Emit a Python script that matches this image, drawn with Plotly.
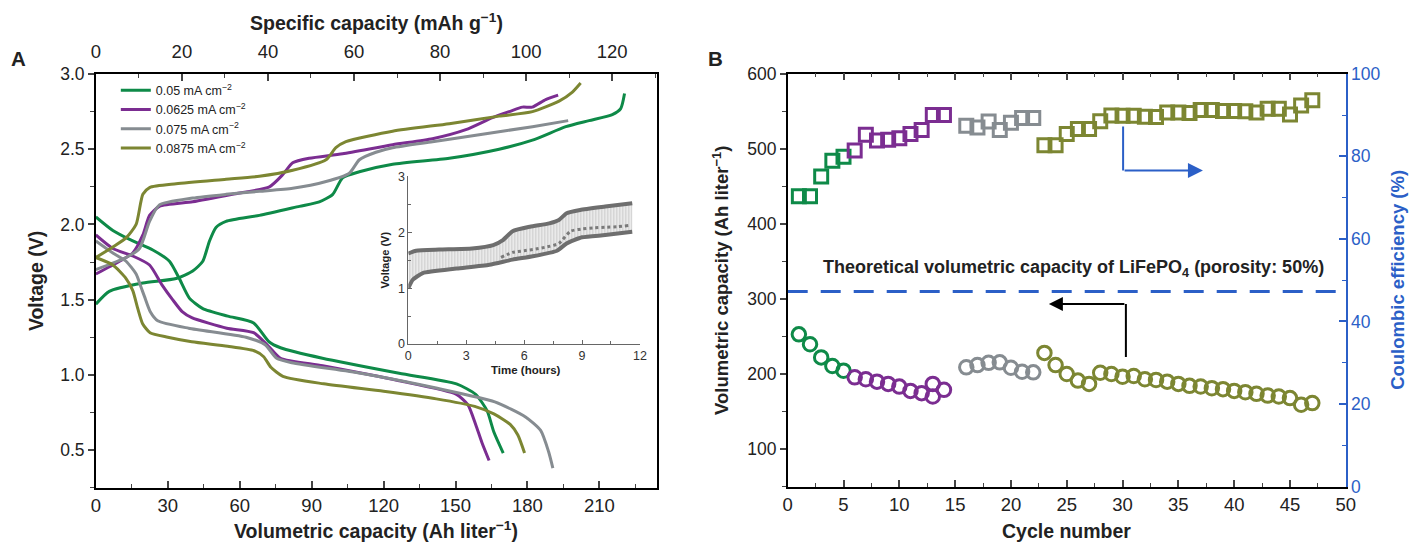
import plotly.graph_objects as go

W, H = 1410, 546
# page-pixel placement: the rendered page maps figure pixels as r = a + k * p
SX_A, SX_K = 2.0, 0.991
SY_A, SY_K = 8.1, 0.966

# ---------------- Panel A: charge/discharge profiles ----------------
rate_labels = ["0.05 mA cm<sup>−2</sup>", "0.0625 mA cm<sup>−2</sup>",
               "0.075 mA cm<sup>−2</sup>", "0.0875 mA cm<sup>−2</sup>"]
colors = ["#0e8a48", "#7b2d91", "#868c91", "#7c8632"]

# charge (rising) curves: volumetric capacity (Ah/L), voltage (V)
chg_q_005 = [0, 5.6, 19.6, 33.5, 40.4, 44.6, 47.4, 50.1, 54.3, 68.2, 84.9, 93.2, 98.8, 102.9,
             109.9, 123.8, 147.4, 168.2, 182.1, 196, 205.7, 215.4, 218.9, 220.5]
chg_v_005 = [1.47, 1.555, 1.61, 1.64, 1.69, 1.755, 1.89, 1.98, 2.02, 2.06, 2.12, 2.15, 2.20, 2.31,
             2.35, 2.40, 2.44, 2.50, 2.56, 2.65, 2.69, 2.73, 2.77, 2.87]
chg_q_0625 = [0, 9.9, 15.4, 19.6, 22.4, 26.5, 40.4, 57, 72.4, 77.9, 82.1, 89, 102.9, 123.75,
              140.4, 154.3, 165.4, 172.4, 177.9, 182, 187.6, 192.8]
chg_v_0625 = [1.67, 1.755, 1.81, 1.93, 2.06, 2.12, 2.15, 2.20, 2.25, 2.33, 2.41, 2.44, 2.47, 2.53,
              2.57, 2.63, 2.71, 2.75, 2.78, 2.78, 2.83, 2.86]
chg_q_075 = [0, 12.6, 18.2, 22.4, 26.5, 40.4, 54.3, 68.2, 82.1, 96, 105.7, 109.9, 116.8, 123.75,
             140.4, 161.25, 182.1, 197]
chg_v_075 = [1.70, 1.78, 1.84, 2.02, 2.13, 2.175, 2.20, 2.22, 2.24, 2.285, 2.34, 2.43, 2.48, 2.51,
             2.55, 2.60, 2.65, 2.69]
chg_q_0875 = [0, 7.1, 12.6, 16.8, 19.6, 22.4, 33.5, 54.3, 68.2, 82.1, 96, 100.1, 104.3, 123.75,
              147.4, 168.2, 182.1, 193.2, 198.75, 202.2]
chg_v_0875 = [1.78, 1.85, 1.91, 2.0, 2.20, 2.245, 2.27, 2.30, 2.32, 2.36, 2.43, 2.51, 2.55, 2.62,
              2.67, 2.72, 2.75, 2.82, 2.88, 2.94]

# discharge (falling) curves
dis_q_005 = [0, 7.1, 15.4, 23.75, 30.7, 34.8, 39, 44.6, 55, 65.8, 72.2, 77, 94.5, 126.5, 150.4,
             158.4, 163.2, 166, 169.9]
dis_v_005 = [2.05, 1.96, 1.89, 1.83, 1.755, 1.64, 1.51, 1.44, 1.39, 1.345, 1.22, 1.18, 1.11, 1.01,
             0.94, 0.87, 0.76, 0.62, 0.48]
dis_q_0625 = [0, 7.1, 15.4, 22.4, 27.5, 32, 36, 40, 54.6, 65.8, 72, 77, 94.6, 126.5, 150.4, 155.2,
              158.4, 161, 164]
dis_v_0625 = [1.93, 1.84, 1.79, 1.73, 1.60, 1.50, 1.42, 1.38, 1.31, 1.28, 1.19, 1.11, 1.06, 0.96,
              0.87, 0.80, 0.67, 0.55, 0.43]
dis_q_075 = [0, 7.1, 12.6, 16.8, 18.9, 20.3, 22.7, 25.8, 38.7, 62.6, 70.6, 75.4, 81.7, 110.5,
             142.4, 166.4, 179.2, 185.5, 188.8, 190.6]
dis_v_075 = [1.89, 1.81, 1.755, 1.67, 1.58, 1.52, 1.42, 1.36, 1.31, 1.25, 1.20, 1.11, 1.08, 1.01,
             0.91, 0.82, 0.72, 0.63, 0.49, 0.38]
dis_q_0875 = [0, 7.1, 12.6, 15.4, 17.5, 19.5, 22.6, 30, 40, 55, 66, 70, 73, 78, 95, 120, 142, 158,
              166, 172.8, 176, 178.8]
dis_v_0875 = [1.78, 1.73, 1.64, 1.56, 1.44, 1.34, 1.28, 1.25, 1.22, 1.19, 1.16, 1.12, 1.05, 0.99,
              0.94, 0.89, 0.84, 0.79, 0.74, 0.67, 0.60, 0.48]

# inset: voltage vs time (hours)
inset_top_t = [0, 0.4, 1.6, 3.3, 4.4, 4.9, 5.4, 6.3, 7.3, 7.8, 8.2, 8.9, 10.2, 11.6]
inset_top_v = [1.62, 1.67, 1.69, 1.71, 1.77, 1.86, 2.02, 2.10, 2.16, 2.22, 2.34, 2.40, 2.46, 2.52]
inset_bot_t = [0, 0.23, 0.75, 2.5, 4.2, 5.4, 6.45, 7.7, 8.2, 9.0, 10.2, 11.6]
inset_bot_v = [1.0, 1.15, 1.27, 1.35, 1.42, 1.51, 1.57, 1.67, 1.80, 1.91, 1.95, 2.01]
inset_mid_t = [4.8, 5.4, 6.0, 6.6, 7.2, 7.8, 8.4, 9.0, 9.6, 10.2, 10.8, 11.4]
inset_mid_v = [1.55, 1.64, 1.67, 1.70, 1.74, 1.80, 2.02, 2.06, 2.08, 2.09, 2.10, 2.12]

# ---------------- Panel B: cycling ----------------
cyc_005 = [1, 2, 3, 4, 5]
ce_005 = [70.3, 70.3, 75.1, 78.9, 79.9]
cap_005 = [252.8, 239.6, 222.1, 210.6, 204.4]

cyc_0625 = [6, 7, 8, 9, 10, 11, 12, 13, 14]
ce_0625 = [81.4, 85.2, 83.8, 84.0, 84.4, 85.4, 86.4, 90.0, 90.0]
cyc_0625_cap = [6, 7, 8, 9, 10, 11, 12, 13, 13, 14]
cap_0625 = [195.6, 193.0, 189.8, 186.8, 183.2, 177.5, 174.5, 186.8, 170.0, 178.9]

cyc_075 = [16, 17, 18, 19, 20, 21, 22]
ce_075 = [87.4, 87.0, 88.4, 86.4, 88.1, 89.3, 89.3]
cap_075 = [208.9, 211.9, 214.9, 215.5, 208.3, 203.0, 202.2]

cyc_0875 = list(range(23, 48))
ce_0875 = [82.7, 82.7, 85.4, 86.6, 86.6, 88.5, 89.9, 89.8, 89.8, 89.6, 89.5, 90.6, 90.6, 90.5,
           91.2, 91.2, 91.0, 91.0, 90.9, 90.6, 91.5, 91.5, 90.1, 92.3, 93.6]
cap_0875 = [228.1, 211.9, 200.0, 191.2, 186.8, 201.7, 200.0, 196.4, 197.3, 193.0, 192.1, 189.8,
            186.8, 184.2, 183.3, 181.1, 179.8, 177.5, 175.8, 173.6, 171.3, 170.0, 167.9, 159.1,
            161.3]

theoretical_cap = 310

# ---------------- layout helpers (page pixel -> paper fraction) ----------------
def px_x(r):
    return ((r - SX_A) / SX_K) / W

def px_y(r):
    return 1 - ((r - SY_A) / SY_K) / H

FONT = "Liberation Sans, Arial, sans-serif"
NARROW = "Liberation Sans Narrow, Liberation Sans, Arial, sans-serif"
BLUE = "#2b5fc7"

fig = go.Figure()

chg = [(chg_q_005, chg_v_005), (chg_q_0625, chg_v_0625), (chg_q_075, chg_v_075), (chg_q_0875, chg_v_0875)]
dis = [(dis_q_005, dis_v_005), (dis_q_0625, dis_v_0625), (dis_q_075, dis_v_075), (dis_q_0875, dis_v_0875)]
for i in range(4):
    fig.add_trace(go.Scatter(x=chg[i][0], y=chg[i][1], mode="lines", name=rate_labels[i],
                             line=dict(color=colors[i], width=3, shape="spline", smoothing=0.6),
                             xaxis="x", yaxis="y", legendgroup=str(i)))
    fig.add_trace(go.Scatter(x=dis[i][0], y=dis[i][1], mode="lines", showlegend=False,
                             line=dict(color=colors[i], width=3, shape="spline", smoothing=0.6),
                             xaxis="x", yaxis="y", legendgroup=str(i)))

# empty trace so the top (specific capacity) axis is drawn
fig.add_trace(go.Scatter(x=[], y=[], mode="lines", showlegend=False, hoverinfo="skip",
                         xaxis="x2", yaxis="y"))

# inset traces
GREY_I = "#6e6e6e"
fig.add_trace(go.Scatter(x=inset_top_t, y=inset_top_v, mode="lines", showlegend=False,
                         line=dict(color=GREY_I, width=4, shape="spline", smoothing=0.5),
                         xaxis="x3", yaxis="y3"))
fig.add_trace(go.Scatter(x=inset_bot_t, y=inset_bot_v, mode="lines", showlegend=False,
                         line=dict(color=GREY_I, width=4, shape="spline", smoothing=0.5),
                         fill="tonexty", fillcolor="#e6e6e6",
                         fillpattern=dict(shape="|", fgcolor="#a8a8a8", bgcolor="#f0f0f0",
                                          size=3, solidity=0.45),
                         xaxis="x3", yaxis="y3"))
fig.add_trace(go.Scatter(x=inset_mid_t, y=inset_mid_v, mode="lines", showlegend=False,
                         line=dict(color="#7a7a7a", width=3, dash="dot", shape="spline", smoothing=0.5),
                         xaxis="x3", yaxis="y3"))

# panel B traces
groups = [(cyc_005, ce_005, cyc_005, cap_005), (cyc_0625, ce_0625, cyc_0625_cap, cap_0625),
          (cyc_075, ce_075, cyc_075, cap_075), (cyc_0875, ce_0875, cyc_0875, cap_0875)]
for i, (cx, ce, kx, cap) in enumerate(groups):
    fig.add_trace(go.Scatter(x=cx, y=ce, mode="markers", showlegend=False,
                             marker=dict(symbol="square-open", size=13, color=colors[i],
                                         line=dict(width=3, color=colors[i])),
                             xaxis="x4", yaxis="y5"))
    fig.add_trace(go.Scatter(x=kx, y=cap, mode="markers", showlegend=False,
                             marker=dict(symbol="circle-open", size=13.5, color=colors[i],
                                         line=dict(width=3, color=colors[i])),
                             xaxis="x4", yaxis="y4"))

tickfont = dict(family=FONT, size=17.5, color="#222")
narrowfont = dict(family=NARROW, size=18.5, color="#222")

A_dom_x = [px_x(93), px_x(655)]
A_dom_y = [px_y(487), px_y(72.3)]
B_dom_x = [px_x(786), px_x(1345)]
B_dom_y = [px_y(486), px_y(72)]

fig.update_layout(
    width=W, height=H, margin=dict(l=0, r=0, t=0, b=0),
    paper_bgcolor="white", plot_bgcolor="white",
    showlegend=True,
    legend=dict(x=px_x(113), y=px_y(74), xanchor="left", yanchor="top",
                font=dict(family=FONT, size=12.5, color="#222"), bgcolor="rgba(0,0,0,0)",
                itemwidth=30, tracegroupgap=0),
    xaxis=dict(domain=A_dom_x, range=[0, 234], anchor="y", showgrid=False, zeroline=False,
               showline=True, linecolor="black", linewidth=1.5, mirror=False,
               ticks="inside", ticklen=7, tickwidth=1.5, dtick=30, tick0=0,
               minor=dict(ticks="inside", ticklen=4, dtick=15, tickwidth=1.2),
               tickfont=narrowfont, ticklabelstandoff=0),
    xaxis2=dict(domain=A_dom_x, range=[0, 130.4], anchor="y", overlaying="x", side="top",
                showgrid=False, zeroline=False, showline=True, linecolor="black", linewidth=1.5,
                ticks="inside", ticklen=7, tickwidth=1.5, dtick=20, tick0=0,
                minor=dict(ticks="inside", ticklen=4, dtick=10, tickwidth=1.2),
                tickfont=narrowfont, ticklabelstandoff=7),
    yaxis=dict(domain=A_dom_y, range=[0.25, 3.0], anchor="x", showgrid=False, zeroline=False,
               showline=True, linecolor="black", linewidth=1.5, mirror=True,
               ticks="outside", ticklen=6, tickwidth=1.5, dtick=0.5, tick0=0.5, tickformat=".1f",
               minor=dict(ticks="outside", ticklen=4, dtick=0.25, tickwidth=1.2),
               tickfont=tickfont),
    xaxis3=dict(domain=[px_x(406), px_x(638)], range=[0, 12], anchor="y3", showgrid=False,
                zeroline=False, showline=True, linecolor="#666", linewidth=1,
                ticks="inside", ticklen=4, tickwidth=1, tickcolor="#666", dtick=3, tick0=0,
                minor=dict(ticks="inside", ticklen=2.5, dtick=1.5, tickcolor="#666"),
                tickfont=dict(family=FONT, size=12.5, color="#333")),
    yaxis3=dict(domain=[px_y(343), px_y(175)], range=[0, 3], anchor="x3", showgrid=False,
                zeroline=False, showline=True, linecolor="#666", linewidth=1,
                ticks="inside", ticklen=4, tickwidth=1, tickcolor="#666", dtick=1, tick0=0,
                minor=dict(ticks="inside", ticklen=2.5, dtick=0.5, tickcolor="#666"),
                tickfont=dict(family=FONT, size=12.5, color="#333")),
    xaxis4=dict(domain=B_dom_x, range=[0, 50], anchor="y4", showgrid=False, zeroline=False,
                showline=True, linecolor="black", linewidth=1.5, mirror="ticks",
                ticks="inside", ticklen=7, tickwidth=1.5, dtick=5, tick0=0,
                minor=dict(ticks="inside", ticklen=4, dtick=2.5, tickwidth=1.2),
                tickfont=narrowfont, ticklabelstandoff=0),
    yaxis4=dict(domain=B_dom_y, range=[50, 600], anchor="x4", showgrid=False, zeroline=False,
                showline=True, linecolor="black", linewidth=1.5,
                ticks="outside", ticklen=6, tickwidth=1.5, dtick=100, tick0=100,
                minor=dict(ticks="outside", ticklen=4, dtick=50, tickwidth=1.2),
                tickfont=tickfont),
    yaxis5=dict(domain=B_dom_y, range=[0, 100], anchor="x4", overlaying="y4", side="right",
                showgrid=False, zeroline=False, showline=True, linecolor=BLUE, linewidth=1.5,
                ticks="inside", ticklen=7, tickwidth=1.5, tickcolor=BLUE, dtick=20, tick0=0,
                minor=dict(ticks="inside", ticklen=4, dtick=10, tickcolor=BLUE, tickwidth=1.2),
                tickfont=dict(family=FONT, size=17.5, color=BLUE)),
)

# theoretical capacity line and arrows in panel B
fig.add_shape(type="line", xref="x4", yref="y4", x0=0, x1=50, y0=theoretical_cap, y1=theoretical_cap,
              line=dict(color=BLUE, width=3, dash="20px,13px"))
fig.add_shape(type="line", xref="x4", yref="y4", x0=30.3, x1=30.3, y0=222.8, y1=293.2,
              line=dict(color="black", width=2))
fig.add_annotation(xref="x4", yref="y4", x=23.4, y=293.2, ax=30.3, ay=293.2,
                   axref="x4", ayref="y4", text="", showarrow=True, arrowhead=2,
                   arrowsize=1.4, arrowwidth=2, arrowcolor="black")
fig.add_shape(type="line", xref="x4", yref="y4", x0=30.05, x1=30.05, y0=529.6, y1=471.2,
              line=dict(color=BLUE, width=2))
fig.add_annotation(xref="x4", yref="y4", x=37.2, y=471.2, ax=30.05, ay=471.2,
                   axref="x4", ayref="y4", text="", showarrow=True, arrowhead=2,
                   arrowsize=1.5, arrowwidth=2, arrowcolor=BLUE)

def label(text, x, y, size, color="#222", bold=True, angle=0, family=FONT, xanchor="center"):
    fig.add_annotation(xref="paper", yref="paper", x=px_x(x), y=px_y(y),
                       text=f"<b>{text}</b>" if bold else text,
                       showarrow=False, textangle=angle, xanchor=xanchor, yanchor="middle",
                       font=dict(family=family, size=size, color=color))

label("Theoretical volumetric capacity of LiFePO<sub>4</sub> (porosity: 50%)", 1072, 267, 18)

# axis titles and panel letters
label("A", 16, 57, 20.5)
label("B", 714, 57, 20.5)
label("Specific capacity (mAh g<sup>−1</sup>)", 374, 20, 19.5, family=NARROW)
label("Volumetric capacity (Ah liter<sup>−1</sup>)", 374, 530, 19.5, family=NARROW)
label("Voltage (V)", 33, 280, 19.5, angle=-90)
label("Time (hours)", 524, 369, 11.5)
label("Voltage (V)", 383, 259, 11, angle=-90)
label("Cycle number", 1065, 531, 19.5, family=NARROW)
label("Volumetric capacity (Ah liter<sup>−1</sup>)", 719, 279, 18.5, angle=-90)
label("Coulombic efficiency (%)", 1396, 279, 18.5, color=BLUE, angle=-90)

fig.write_html("out.html")
